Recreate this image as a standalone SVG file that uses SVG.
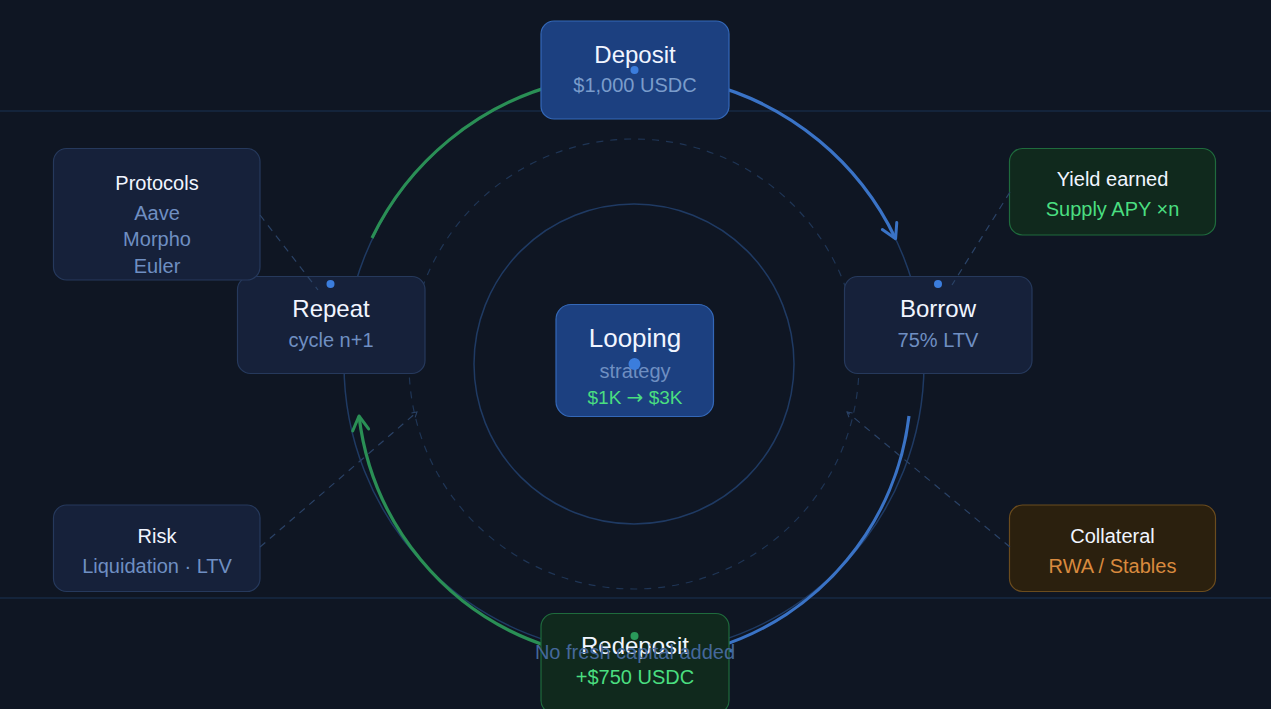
<svg xmlns="http://www.w3.org/2000/svg" width="1271" height="709" viewBox="0 0 1271 709">
<defs>
<style>
text{font-family:"Liberation Sans",Arial,sans-serif;text-anchor:middle}
.t{fill:#f1f5ff;font-size:24px}
.ts{fill:#f1f5ff;font-size:20px}
.s{fill:#6f8fc2;font-size:20px}
.g{fill:#4ade80;font-size:20px}
.o{fill:#d98a3e;font-size:20px}
.card{fill:#16213a;stroke:#26395c;stroke-width:1.2}
.blue{fill:#1c4080;stroke:#3468b8;stroke-width:1.2}
.green{fill:#10291d;stroke:#1f6b3d;stroke-width:1.2}
.amber{fill:#2b200e;stroke:#6b4c1e;stroke-width:1.2}
.ring{fill:none;stroke:#1f3a63;stroke-width:1.5}
.dring{fill:none;stroke:#1f3555;stroke-width:1.2;stroke-dasharray:7 7}
.dash{fill:none;stroke:#2a4266;stroke-width:1.2;stroke-dasharray:7 6}
.fb{fill:none;stroke:#3a73c6;stroke-width:3.2}
.fg{fill:none;stroke:#2a8f55;stroke-width:3.2}
.dot{fill:#3b7ddd}
</style>
<marker id="ab" viewBox="0 0 20 20" markerWidth="20" markerHeight="20" refX="16" refY="10" orient="auto" markerUnits="userSpaceOnUse">
<path d="M2,2 L16,10 L2,18" fill="none" stroke="#3a73c6" stroke-width="3" stroke-linecap="round" stroke-linejoin="round"/>
</marker>
<marker id="ag" viewBox="0 0 20 20" markerWidth="20" markerHeight="20" refX="16" refY="10" orient="auto" markerUnits="userSpaceOnUse">
<path d="M2,2 L16,10 L2,18" fill="none" stroke="#2a8f55" stroke-width="3" stroke-linecap="round" stroke-linejoin="round"/>
</marker>
<marker id="as" viewBox="0 0 10 10" markerWidth="7" markerHeight="7" refX="8" refY="5" orient="auto" markerUnits="userSpaceOnUse">
<path d="M1,1 L8,5 L1,9" fill="none" stroke="#2a4266" stroke-width="1.5"/>
</marker>
</defs>
<rect width="1271" height="709" fill="#0f1623"/>
<g id="guides">
<line x1="0" y1="111" x2="1271" y2="111" stroke="#1b3354" stroke-width="1.2"/>
<line x1="0" y1="598" x2="1271" y2="598" stroke="#1b3354" stroke-width="1.2"/>
<circle class="ring" cx="634" cy="364" r="290"/>
<circle class="dring" cx="634" cy="364" r="225"/>
<circle class="ring" cx="634" cy="364" r="160"/>
</g>
<g id="connectors">
<path class="fg" d="M372,238 A290,290 0 0 1 560,83.6"/>
<path class="fb" d="M708,83.6 A290,290 0 0 1 895.6,238.7" marker-end="url(#ab)"/>
<path class="fb" d="M909,416 A277,277 0 0 1 716,647.5" marker-end="url(#ab)"/>
<path class="fg" d="M550,647 A277,277 0 0 1 359,416" marker-end="url(#ag)"/>
</g>
<g id="node-deposit">
<rect class="blue" x="541" y="21" width="188" height="98" rx="13"/>
<text class="t" x="635" y="63">Deposit</text>
<text class="s" x="635" y="92" style="fill:#7a9ccb">$1,000 USDC</text>
</g>
<g id="node-looping">
<rect class="blue" x="556" y="304.5" width="157.5" height="112" rx="15"/>
<text class="t" x="635" y="347" style="font-size:26px">Looping</text>
<text class="s" x="635" y="378">strategy</text>
<text class="g" x="635" y="403.5" style="font-size:19px">$1K <tspan style="font-family:'DejaVu Sans',sans-serif;font-size:20px">→</tspan> $3K</text>
</g>
<g id="node-borrow">
<rect class="card" x="844.5" y="276.5" width="187.5" height="97" rx="13"/>
<text class="t" x="938" y="317">Borrow</text>
<text class="s" x="938" y="347">75% LTV</text>
</g>
<g id="node-repeat">
<rect class="card" x="237.5" y="276.5" width="187.5" height="97" rx="13"/>
<text class="t" x="331" y="317">Repeat</text>
<text class="s" x="331" y="347">cycle n+1</text>
</g>
<g id="node-redeposit">
<rect class="green" x="541" y="613.5" width="188" height="100" rx="13"/>
<text class="t" x="635" y="653.5">Redeposit</text>
<text class="g" x="635" y="683.5">+$750 USDC</text>
</g>
<g id="node-protocols">
<rect class="card" x="53.5" y="148.5" width="206.5" height="131.5" rx="13"/>
<text class="ts" x="157" y="190">Protocols</text>
<text class="s" x="157" y="220">Aave</text>
<text class="s" x="157" y="246">Morpho</text>
<text class="s" x="157" y="273">Euler</text>
</g>
<g id="node-yield">
<rect class="green" x="1009.5" y="148.5" width="206" height="86.5" rx="13"/>
<text class="ts" x="1112.5" y="185.5">Yield earned</text>
<text class="g" x="1112.5" y="215.5">Supply APY ×n</text>
</g>
<g id="node-risk">
<rect class="card" x="53.5" y="505" width="206.5" height="86.5" rx="13"/>
<text class="ts" x="157" y="543">Risk</text>
<text class="s" x="157" y="573">Liquidation · LTV</text>
</g>
<g id="node-collateral">
<rect class="amber" x="1009.5" y="505" width="206" height="86.5" rx="13"/>
<text class="ts" x="1112.5" y="543">Collateral</text>
<text class="o" x="1112.5" y="573">RWA / Stables</text>
</g>
<g id="annotations">
<line class="dash" x1="260" y1="215" x2="318" y2="290"/>
<line class="dash" x1="1010" y1="192" x2="952" y2="285"/>
<line class="dash" x1="260" y1="547" x2="417" y2="412" marker-end="url(#as)"/>
<line class="dash" x1="1010" y1="547" x2="847" y2="412" marker-end="url(#as)"/>
</g>
<g id="dots">
<circle class="dot" cx="634.5" cy="70" r="4"/>
<circle class="dot" cx="634.5" cy="364" r="6"/>
<circle class="dot" cx="938" cy="284" r="4"/>
<circle class="dot" cx="330.5" cy="284" r="4"/>
<circle cx="634.5" cy="636" r="4" fill="#2a9a5a"/>
</g>
<text x="635" y="659" style="font-size:20px;fill:#45689a">No fresh capital added</text>
</svg>
